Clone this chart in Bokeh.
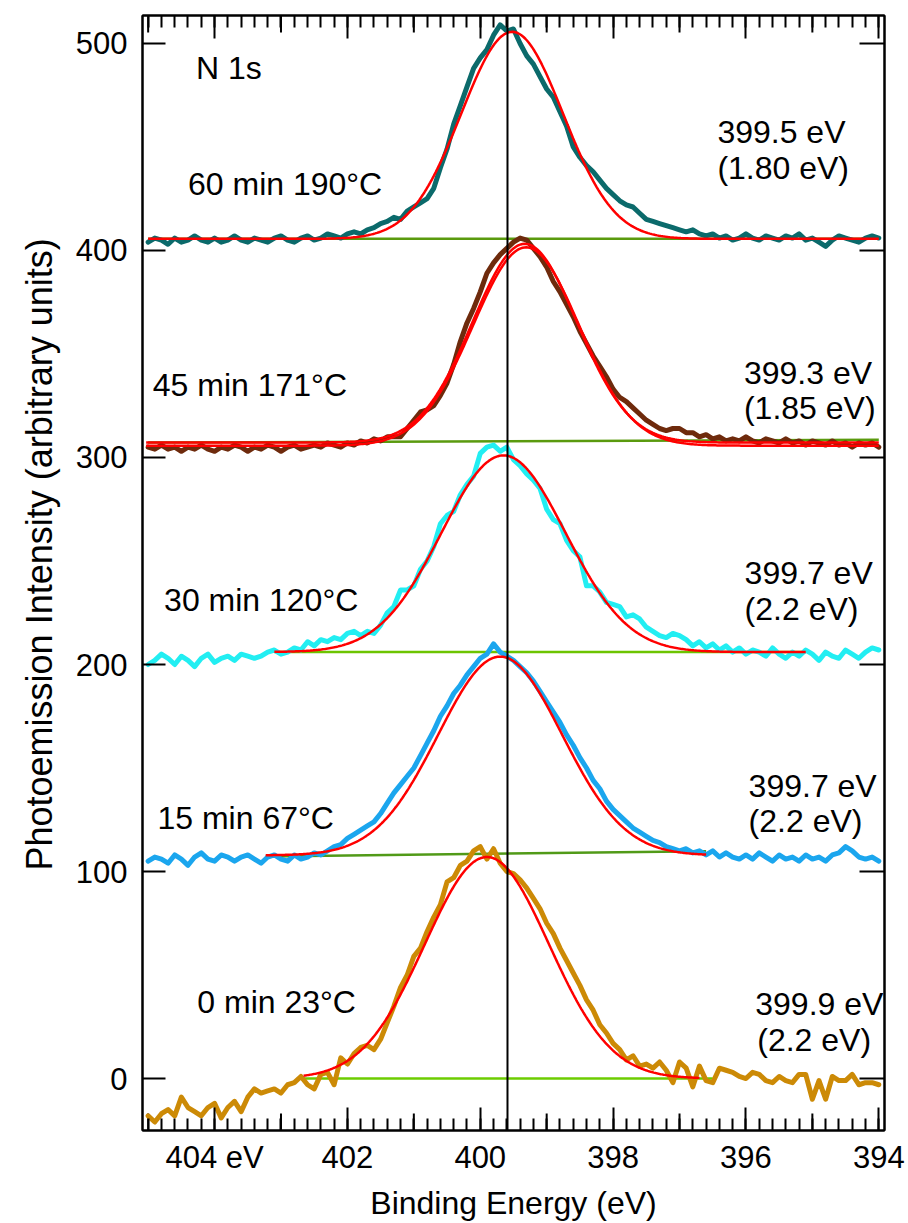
import numpy as np
from bokeh.plotting import figure
from bokeh.models import Range1d, FixedTicker, LinearAxis, Span, Title
from bokeh.core.properties import value
from bokeh.embed import file_html
from bokeh.resources import INLINE

FONT = "Liberation Sans"

# ---------------- data ----------------
energy_ev = [
    405.0, 404.9, 404.8, 404.7, 404.6, 404.5, 404.4, 404.3, 404.2, 404.1,
    404.0, 403.9, 403.8, 403.7, 403.6, 403.5, 403.4, 403.3, 403.2, 403.1,
    403.0, 402.9, 402.8, 402.7, 402.6, 402.5, 402.4, 402.3, 402.2, 402.1,
    402.0, 401.9, 401.8, 401.7, 401.6, 401.5, 401.4, 401.3, 401.2, 401.1,
    401.0, 400.9, 400.8, 400.7, 400.6, 400.5, 400.4, 400.3, 400.2, 400.1,
    400.0, 399.9, 399.8, 399.7, 399.6, 399.5, 399.4, 399.3, 399.2, 399.1,
    399.0, 398.9, 398.8, 398.7, 398.6, 398.5, 398.4, 398.3, 398.2, 398.1,
    398.0, 397.9, 397.8, 397.7, 397.6, 397.5, 397.4, 397.3, 397.2, 397.1,
    397.0, 396.9, 396.8, 396.7, 396.6, 396.5, 396.4, 396.3, 396.2, 396.1,
    396.0, 395.9, 395.8, 395.7, 395.6, 395.5, 395.4, 395.3, 395.2, 395.1,
    395.0, 394.9, 394.8, 394.7, 394.6, 394.5, 394.4, 394.3, 394.2, 394.1,
    394.0]

intensity_60min = [
    404, 406, 405, 403, 406, 404, 405, 407, 405, 404,
    406, 404, 405, 407, 405, 404, 406, 405, 404, 406,
    407, 405, 404, 406, 407, 405, 406, 408, 407, 406,
    408, 409, 408, 410, 411, 413, 414, 416, 415, 419,
    421, 423, 425, 430, 440, 449, 461, 470, 479, 488,
    493, 497, 504, 509, 506, 507, 500, 494, 490, 484,
    478, 474, 467, 460, 450, 445, 441, 438, 434, 430,
    427, 424, 422, 421, 418, 415, 414, 413, 412, 411,
    410, 409, 410, 408, 407, 408, 406, 407, 405, 406,
    408, 406, 405, 407, 406, 405, 407, 406, 408, 405,
    406, 404, 402, 405, 407, 406, 405, 404, 406, 407,
    406]

intensity_45min = [
    305, 304, 306, 304, 305, 303, 305, 304, 306, 304,
    303, 305, 304, 306, 305, 303, 305, 304, 306, 305,
    303, 305, 306, 304, 305, 306, 305, 307, 306, 305,
    307, 306, 308, 307, 309, 308, 310, 310, 310, 314,
    318, 322, 323, 325, 330, 336, 345, 356, 365, 372,
    380, 389, 394, 398, 401, 404, 406, 405, 401, 397,
    392, 385, 380, 374, 368, 361, 355, 349, 344, 339,
    333, 329, 327, 324, 321, 318, 316, 314, 313, 314,
    314, 312, 312, 310, 311, 309, 310, 308, 309, 308,
    310, 308, 307, 309, 308, 307, 309, 307, 308, 306,
    308, 307, 306, 308, 306, 307, 305, 307, 306, 307,
    305]

intensity_30min = [
    200, 202, 205, 203, 200, 204, 202, 199, 203, 205,
    201, 203, 204, 202, 205, 204, 203, 204, 206, 207,
    205, 206, 208, 207, 211, 209, 212, 211, 213, 212,
    215, 216, 214, 216, 215, 219, 225, 228, 236, 236,
    238, 246, 250, 257, 268, 272, 274, 282, 287, 291,
    302, 305, 306, 303, 305, 299, 296, 292, 289, 285,
    275, 270, 268, 260, 255, 252, 238, 238, 235, 230,
    229, 228, 223, 224, 222, 218, 216, 214, 213, 215,
    214, 212, 209, 211, 208, 210, 207, 209, 206, 208,
    205, 207, 206, 204, 208, 205, 203, 206, 204, 207,
    205, 202, 206, 204, 203, 207, 205, 203, 206, 208,
    207]

intensity_15min = [
    105, 107, 106, 104, 108, 106, 103, 107, 109, 106,
    105, 108, 107, 105, 107, 108, 106, 104, 107, 108,
    106, 105, 108, 106, 107, 109, 108, 110, 112, 113,
    116, 118, 120, 122, 124, 128, 133, 138, 142, 146,
    150, 156, 162, 168, 175, 180, 186, 190, 195, 199,
    203, 205, 210, 206, 204, 202, 199, 196, 192, 187,
    182, 177, 172, 166, 161, 155, 150, 144, 140, 134,
    130, 127, 124, 121, 119, 117, 115, 114, 112, 111,
    110, 111, 109, 110, 108, 110, 107, 109, 107, 106,
    108, 106, 109, 107, 105, 108, 106, 107, 105, 108,
    106, 107, 105, 108, 109, 112, 110, 107, 106, 107,
    105]

intensity_0min = [
    -18, -21, -17, -15, -18, -9, -14, -16, -18, -14,
    -12, -19, -14, -11, -16, -9, -5, -7, -6, -5,
    -7, -3, -2, 1, -3, -5, 2, 3, -3, 10,
    7, 12, 15, 16, 14, 19, 27, 35, 44, 50,
    59, 63, 71, 78, 84, 95, 97, 103, 105, 110,
    112, 106, 111, 104, 100, 99, 96, 92, 87, 82,
    75, 70, 63, 57, 51, 45, 38, 33, 26, 22,
    17, 14, 9, 11, 6, 7, 5, 8, 4, -2,
    8, 5, -4, 6, -1, -2, 5, 4, 3, 1,
    0, 3, 2, -1, -2, 1, -1, -2, 2, 2,
    -10, -1, -10, 1, -1, -1, 2, -3, -2, -2,
    -3]

spectra = [intensity_60min, intensity_45min, intensity_30min, intensity_15min, intensity_0min]
spectrum_colors = ["#0b6a6b", "#6e2a0c", "#22eef2", "#1ba6ee", "#cc8a06"]

fit_center = [399.52, 399.33, 399.65, 399.70, 399.90]
fit_fwhm = [1.80, 1.85, 2.20, 2.20, 2.20]
fit_amp = [100.0, 96.0, 95.0, 96.0, 107.0]
fit_base = [405.6, 307.2, 206.0, 107.8, 0.0]
fit_from = [405.0, 405.03, 403.10, 403.23, 402.66]
fit_to = [394.0, 394.0, 395.10, 396.60, 396.70]
# second fit curve shown for the 45 min spectrum
fit2_center, fit2_fwhm, fit2_amp, fit2_base = 399.31, 1.88, 95.8, 305.7

# Linear backgrounds (green)
bg_from = [405.0, 405.0, 403.10, 403.23, 402.66]
bg_to = [394.0, 394.0, 395.10, 396.60, 396.50]
bg_left = [405.6, 307.2, 206.0, 107.3, 0.0]
bg_right = [405.6, 308.6, 206.0, 109.8, 0.0]
bg_colors = ["#5a9a0e", "#5a9a0e", "#6cc400", "#519a18", "#6ccc00"]

peak_marker_ev = 399.59

# Annotations
left_labels = ["N 1s", "60 min 190°C", "45 min 171°C", "30 min 120°C", "15 min 67°C", "0 min 23°C"]
left_label_x = [404.28, 404.40, 404.93, 404.76, 404.86, 404.26]
left_label_y = [488.0, 432.0, 335.0, 231.0, 126.0, 37.0]

right_labels = ["399.5 eV", "(1.80 eV)", "399.3 eV", "(1.85 eV)", "399.7 eV", "(2.2 eV)",
                "399.7 eV", "(2.2 eV)", "399.9 eV", "(2.2 eV)"]
right_label_x = [396.43, 396.43, 396.03, 396.03, 396.02, 396.02, 395.96, 395.96, 395.86, 395.83]
right_label_y = [457.0, 440.0, 341.0, 324.0, 244.0, 227.0, 141.5, 124.6, 36.2, 18.4]

y_title = "Photoemission Intensity (arbitrary units)"
x_title = "Binding Energy (eV)"

x_major_ticks = [394, 396, 398, 400, 402, 404]
x_mid_ticks = [395, 397, 399, 401, 403, 405]
y_major_ticks = [0, 100, 200, 300, 400, 500]

X_START, X_END = 405.085, 393.914
Y_START, Y_END = -25.1, 513.5

# ---------------- figure ----------------
p = figure(width=908, height=1223, x_range=Range1d(X_START, X_END), y_range=Range1d(Y_START, Y_END),
           output_backend="svg", toolbar_location=None,
           min_border_left=142, min_border_right=24, min_border_top=15, min_border_bottom=93)
p.xgrid.visible = False
p.ygrid.visible = False
p.outline_line_color = "black"
p.outline_line_width = 2
p.background_fill_color = "white"

x_minor = [round(394.0 + 0.2 * i, 1) for i in range(56)]
xticker = FixedTicker(ticks=x_major_ticks, minor_ticks=x_minor)
yticker = FixedTicker(ticks=y_major_ticks, minor_ticks=[])


def style_axis(ax, labels=True):
    ax.axis_line_width = 2
    ax.axis_line_color = "black"
    ax.major_tick_line_width = 2
    ax.minor_tick_line_width = 2
    ax.major_tick_out = 0
    ax.minor_tick_out = 0
    if labels:
        ax.major_label_text_font = FONT
        ax.major_label_text_font_size = "31px"
        ax.major_label_text_color = "black"
        ax.axis_label_text_font = FONT
        ax.axis_label_text_font_size = "32px"
        ax.axis_label_text_font_style = "normal"
        ax.axis_label_text_color = "black"
    else:
        ax.major_label_text_color = None
        ax.major_label_standoff = 0
        ax.axis_label = None
        ax.axis_label_text_color = None


xa = p.xaxis[0]
xa.ticker = xticker
style_axis(xa)
xa.major_tick_in = 23
xa.minor_tick_in = 12
xa.major_label_overrides = {404: "404 eV"}
xa.major_label_standoff = 9
xa.axis_label = x_title
xa.axis_label_standoff = 7

ya = p.yaxis[0]
ya.ticker = yticker
style_axis(ya)
ya.major_tick_in = 23
ya.minor_tick_in = 0
ya.major_label_standoff = 15
ya.axis_label = None

top = LinearAxis(ticker=xticker)
style_axis(top, labels=False)
top.major_tick_in = 23
top.minor_tick_in = 12
p.add_layout(top, "above")

right = LinearAxis(ticker=yticker)
style_axis(right, labels=False)
right.major_tick_in = 25
right.minor_tick_in = 0
p.add_layout(right, "right")

# vertical title as a side title, started 260 px above the frame bottom as in the original
p.add_layout(Title(text=y_title, align="left", offset=260, standoff=22, vertical_align="top",
                   text_font=FONT, text_font_size="36px", text_font_style="normal",
                   text_color="black"), "left")

# medium (1 eV) ticks, length in data units from the fixed ranges (17 px tall)
px_per_unit = 1115.0 / (Y_END - Y_START)
mid_len = 17.0 / px_per_unit
p.segment(x0=x_mid_ticks, y0=[Y_START] * len(x_mid_ticks), x1=x_mid_ticks,
          y1=[Y_START + mid_len] * len(x_mid_ticks), line_color="black", line_width=2)
p.segment(x0=x_mid_ticks, y0=[Y_END] * len(x_mid_ticks), x1=x_mid_ticks,
          y1=[Y_END - mid_len] * len(x_mid_ticks), line_color="black", line_width=2)

# backgrounds
for i in range(5):
    p.line([bg_from[i], bg_to[i]], [bg_left[i], bg_right[i]], line_color=bg_colors[i], line_width=2.5)

# spectra
for vals, col in zip(spectra, spectrum_colors):
    p.line(energy_ev, vals, line_color=col, line_width=5, line_join="round", line_cap="round")


def gauss(x, c, w, a, b):
    return b + a * np.exp(-4.0 * np.log(2.0) * (x - c) ** 2 / w ** 2)


for i in range(5):
    xs = np.linspace(fit_from[i], fit_to[i], 400)
    p.line(xs, gauss(xs, fit_center[i], fit_fwhm[i], fit_amp[i], fit_base[i]),
           line_color="#ff0000", line_width=2.5)
    if i == 1:
        p.line(xs, gauss(xs, fit2_center, fit2_fwhm, fit2_amp, fit2_base),
               line_color="#ff0000", line_width=2.5)

p.add_layout(Span(location=peak_marker_ev, dimension="height", line_color="black", line_width=2))

p.text(x=left_label_x, y=left_label_y, text=left_labels, text_font=value(FONT),
       text_font_size=value("32px"), text_baseline="middle", text_align="left", text_color="black")
p.text(x=right_label_x, y=right_label_y, text=right_labels, text_font=value(FONT),
       text_font_size=value("32px"), text_baseline="middle", text_align="left", text_color="black")

open("out.html", "w").write(file_html(p, INLINE))
